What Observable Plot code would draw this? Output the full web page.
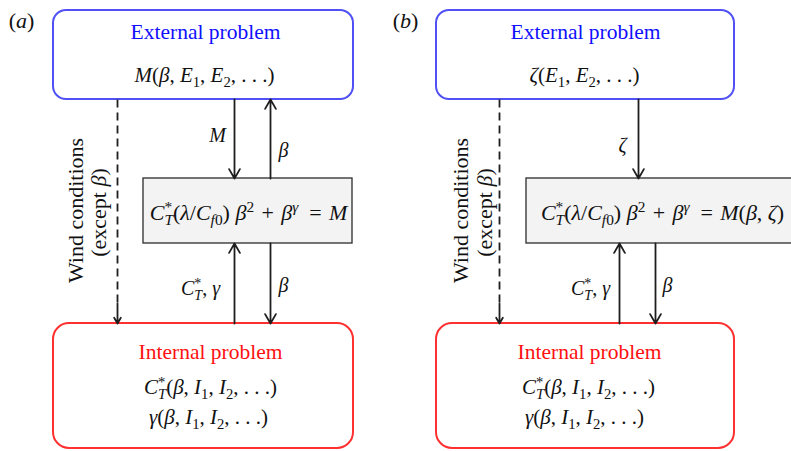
<!DOCTYPE html>
<html><head><meta charset="utf-8">
<script src="https://cdn.jsdelivr.net/npm/d3@7"></script>
<script src="https://cdn.jsdelivr.net/npm/@observablehq/plot@0.6"></script>
<style>body{margin:0;background:#fff;overflow:hidden}</style>
</head><body><div id="chart"></div>
<script>
// ---- Diagram data (layout units = the 791 x 451 canvas) ----
const boxKind = ["external","middle","internal","external","middle","internal"];
const boxX1 = [53, 143, 53, 436, 526, 436];
const boxX2 = [353, 352, 353, 734, 800, 734];
const boxY1 = [10, 178, 323, 10, 178, 323];
const boxY2 = [99, 243, 448, 99, 243, 448];

// arrows: vertical flows between boxes
const arrowX  = [234, 270, 234, 270, 638, 619, 655];
const arrowY1 = [99, 178, 323, 243, 99, 323, 243];
const arrowY2 = [178, 99, 243, 323, 178, 243, 323];

// dashed "wind conditions" connectors
const dashX = [117, 499];
const dashY1 = [99, 99];
const dashSplit = [303, 303];
const dashY2 = [323, 323];

// text labels
const labelText = [
  "(a)", "(b)",
  "External problem", "External problem",
  "Internal problem", "Internal problem",
  "Wind conditions", "(except β)", "Wind conditions", "(except β)",
  "M(β, E_1, E_2, . . .)", "ζ(E_1, E_2, . . .)",
  "M", "β", "ζ",
  "C^*_T(λ/C_{f0}) β^2\u2004+\u2004β^γ\u2002=\u2004M", "C^*_T(λ/C_{f0}) β^2\u2004+\u2004β^γ\u2002=\u2004M(β, ζ)",
  "C^*_T, γ", "β", "C^*_T, γ", "β",
  "C^*_T(β, I_1, I_2, . . .)", "γ(β, I_1, I_2, . . .)",
  "C^*_T(β, I_1, I_2, . . .)", "γ(β, I_1, I_2, . . .)"
];
const labelX = [21, 405, 205, 585, 210, 589, 75, 98, 460, 484,
  204, 584, 217, 283, 622, 248, 662, 200, 283, 590, 667, 210, 208, 588, 584];
const labelY = [20, 20, 32, 32, 352, 352, 210, 212, 210, 212,
  75, 75, 135, 150, 145, 212, 212, 288, 285, 288, 285, 387, 417, 387, 417];
const labelKind = ["math","math","ext","ext","int","int","plain","plain","plain","plain",
  "math","math","math","math","math","math","math","math","math","math","math","math","math","math","math"];
const labelRotate = [0,0,0,0,0,0,-90,-90,-90,-90,0,0,0,0,0,0,0,0,0,0,0,0,0,0,0];
const labelSize = [22,22,21.5,21.5,21.5,21.5,22,22,22,22,21,21,20,20,20,22,22,20,20,20,20,21,21,21,21];

// ---- build tables ----
const boxes = boxKind.map((k,i)=>({k, x1:boxX1[i], x2:boxX2[i], y1:boxY1[i], y2:boxY2[i]}));
const arrows = arrowX.map((x,i)=>({x, y1:arrowY1[i], y2:arrowY2[i]}));
const dashes = dashX.map((x,i)=>({x, y1:dashY1[i], ys:dashSplit[i], y2:dashY2[i]}));
const labels = labelText.map((t,i)=>({t, x:labelX[i], y:labelY[i], k:labelKind[i], r:labelRotate[i], s:labelSize[i]}));

const FONT = "'Liberation Serif', 'Times New Roman', serif";
const colorOf = {math:"#111", plain:"#111", ext:"#1010ff", int:"#ff1010"};
const textMarks = labels.map(d =>
  Plot.text([d], {x:"x", y:"y", text:"t", rotate:"r", fill: colorOf[d.k], fontSize: d.s, fontFamily: FONT}));

const plot = Plot.plot({
  width: 791, height: 451, margin: 0,
  x: {domain:[0,791], range:[0,791], axis:null},
  y: {domain:[0,451], range:[0,451], axis:null},
  style: {background:"#fff"},
  marks: [
    Plot.rect(boxes.filter(d=>d.k==="external"), {x1:"x1",x2:"x2",y1:"y1",y2:"y2", fill:"#fff", stroke:"#5050f5", strokeWidth:2, rx:13}),
    Plot.rect(boxes.filter(d=>d.k==="internal"), {x1:"x1",x2:"x2",y1:"y1",y2:"y2", fill:"#fff", stroke:"#ff3030", strokeWidth:2, rx:16}),
    Plot.rect(boxes.filter(d=>d.k==="middle"), {x1:"x1",x2:"x2",y1:"y1",y2:"y2", fill:"#f3f3f3", stroke:"#3a3a3a", strokeWidth:1.4}),
    Plot.arrow(arrows, {x1:"x", x2:"x", y1:"y1", y2:"y2", stroke:"#1e1e1e", strokeWidth:1.8, headLength:9, headAngle:60}),
    Plot.link(dashes, {x1:"x", x2:"x", y1:"y1", y2:"ys", stroke:"#1e1e1e", strokeWidth:1.8, strokeDasharray:"8,5"}),
    Plot.arrow(dashes, {x1:"x", x2:"x", y1:"ys", y2:"y2", stroke:"#1e1e1e", strokeWidth:1.8, headLength:8, headAngle:60}),
    ...textMarks
  ]
});
document.getElementById("chart").appendChild(plot);

// ---- rich text: italic variables, sub/superscripts ----
const NS = "http://www.w3.org/2000/svg";
const LET = /[A-Za-zα-ωΑ-Ω]/;
function richify(el, mode, fs) {
  const s = el.textContent;
  const segs = [];
  let i = 0;
  while (i < s.length) {
    const c = s[i];
    if ((c === "_" || c === "^") && i + 1 < s.length) {
      let content;
      if (s[i+1] === "{") { const j = s.indexOf("}", i+2); content = s.slice(i+2, j); i = j + 1; }
      else { content = s[i+1]; i += 2; }
      segs.push({text: content, pos: c === "_" ? "sub" : "sup"});
    } else {
      const last = segs[segs.length-1];
      if (last && last.pos === "base") last.text += c; else segs.push({text: c, pos: "base"});
      i++;
    }
  }
  while (el.firstChild) el.removeChild(el.firstChild);
  let cur = 0;
  let lastSup = [];
  segs.forEach((seg, k) => {
    const target = seg.pos === "sup" ? -0.36*fs : seg.pos === "sub" ? 0.24*fs : 0;
    const size = seg.pos === "base" ? fs : 0.7*fs;
    const runs = seg.text.match(/([A-Za-zα-ωΑ-Ω]+|[^A-Za-zα-ωΑ-Ω]+)/g) || [];
    let first = true;
    const created = [];
    runs.forEach(r => {
      const isLetter = LET.test(r[0]);
      const italic = isLetter && (mode === "math" || /[α-ωΑ-Ω]/.test(r[0]));
      const t = document.createElementNS(NS, "tspan");
      t.textContent = r;
      t.setAttribute("font-size", size);
      if (italic) t.setAttribute("font-style", "italic");
      if (first) {
        const dy = target - cur;
        if (dy) t.setAttribute("dy", dy);
        cur = target;
        first = false;
        if (seg.pos === "sub" && k > 0 && segs[k-1].pos === "sup") {
          const w = lastSup.reduce((a, n) => a + n.getComputedTextLength(), 0);
          t.setAttribute("dx", -w);
        }
      }
      el.appendChild(t);
      created.push(t);
    });
    lastSup = seg.pos === "sup" ? created : [];
  });
}
const textGroups = plot.querySelectorAll("g[aria-label='text']");
textGroups.forEach((g, idx) => {
  const d = labels[idx];
  if (!d) return;
  g.querySelectorAll("text").forEach(el => richify(el, d.k === "math" ? "math" : "plain", d.s));
});
</script>
</body></html>
